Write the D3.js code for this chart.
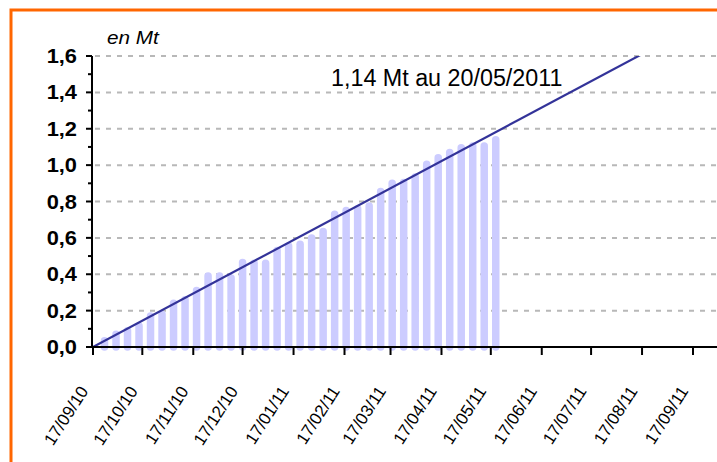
<!DOCTYPE html>
<html>
<head>
<meta charset="utf-8">
<script src="https://cdn.jsdelivr.net/npm/d3@7"></script>
<style>
  body { margin: 0; background: #fff; }
  svg { display: block; font-family: "Liberation Sans", Arial, sans-serif; }
</style>
</head>
<body>
<div id="chart"></div>
<script>
// weekly cumulative values (Mt), Fridays from 24/09/10 to 20/05/11
var barDates = ["24/09/10","01/10/10","08/10/10","15/10/10","22/10/10","29/10/10","05/11/10",
  "12/11/10","19/11/10","26/11/10","03/12/10","10/12/10","17/12/10","24/12/10","31/12/10",
  "07/01/11","14/01/11","21/01/11","28/01/11","04/02/11","11/02/11","18/02/11","25/02/11",
  "04/03/11","11/03/11","18/03/11","25/03/11","01/04/11","08/04/11","15/04/11","22/04/11",
  "29/04/11","06/05/11","13/05/11","20/05/11"];
var barValues = [0.035,0.07,0.09,0.115,0.17,0.18,0.24,0.26,0.31,0.39,0.39,0.38,0.465,0.46,0.46,
  0.53,0.555,0.565,0.60,0.635,0.73,0.75,0.76,0.775,0.855,0.90,0.905,0.935,1.005,1.04,1.07,
  1.095,1.105,1.105,1.14];

// target line
var lineDates = ["17/09/10", "17/09/11"];
var lineValues = [0, 1.76];

var xTickLabels = ["17/09/10","17/10/10","17/11/10","17/12/10","17/01/11","17/02/11","17/03/11",
  "17/04/11","17/05/11","17/06/11","17/07/11","17/08/11","17/09/11"];
var yTickValues = [0, 0.2, 0.4, 0.6, 0.8, 1.0, 1.2, 1.4, 1.6];

var unitLabel = "en Mt";
var noteText = "1,14 Mt au 20/05/2011";

var W = 717, H = 462;
var parse = d3.timeParse("%d/%m/%y");
var fmtY = function (d) { return d.toFixed(1).replace(".", ","); };

var svg = d3.select("#chart").append("svg")
  .attr("width", W).attr("height", H);

// orange frame
svg.append("rect")
  .attr("x", 11).attr("y", 10).attr("width", W + 20).attr("height", H + 20)
  .attr("fill", "#fff").attr("stroke", "#ff6600").attr("stroke-width", 3);

var x = d3.scaleTime()
  .domain([parse(xTickLabels[0]), parse(xTickLabels[xTickLabels.length - 1])])
  .range([93, 693]);
var y = d3.scaleLinear().domain([0, 1.6]).range([347, 56]);

var plotRight = 717;

// grid
svg.append("g").selectAll("line")
  .data(yTickValues.filter(function (d) { return d > 0; }))
  .enter().append("line")
  .attr("x1", 95).attr("x2", plotRight)
  .attr("y1", function (d) { return y(d); }).attr("y2", function (d) { return y(d); })
  .attr("stroke", "#b8b8b8").attr("stroke-width", 2).attr("stroke-dasharray", "5,6");

// bars (thick round-capped lines)
svg.append("g").selectAll("line")
  .data(barDates.map(function (d, i) { return {date: parse(d), value: barValues[i]}; }))
  .enter().append("line")
  .attr("x1", function (d) { return x(d.date); }).attr("x2", function (d) { return x(d.date); })
  .attr("y1", y(0)).attr("y2", function (d) { return y(d.value); })
  .attr("stroke", "#ccccff").attr("stroke-width", 7.5).attr("stroke-linecap", "round");

// target line, clipped to plot area
svg.append("clipPath").attr("id", "plotclip")
  .append("rect").attr("x", 93).attr("y", y(1.6)).attr("width", plotRight - 93).attr("height", y(0) - y(1.6));
svg.append("path")
  .datum(lineDates.map(function (d, i) { return {date: parse(d), value: lineValues[i]}; }))
  .attr("clip-path", "url(#plotclip)")
  .attr("d", d3.line().x(function (d) { return x(d.date); }).y(function (d) { return y(d.value); }))
  .attr("fill", "none").attr("stroke", "#333399").attr("stroke-width", 2.2);

// x axis
var xAxis = svg.append("g").attr("transform", "translate(0," + y(0) + ")");
xAxis.append("line").attr("x1", 92).attr("x2", plotRight).attr("stroke", "#000").attr("stroke-width", 2);
xAxis.selectAll(".xt").data(xTickLabels).enter().append("line")
  .attr("x1", function (d) { return x(parse(d)); }).attr("x2", function (d) { return x(parse(d)); })
  .attr("y1", 0).attr("y2", 8).attr("stroke", "#000").attr("stroke-width", 2);
xAxis.selectAll("text").data(xTickLabels).enter().append("text")
  .attr("transform", function (d) { return "translate(" + (x(parse(d)) - 4) + ",44) rotate(-57)"; })
  .attr("text-anchor", "end")
  .style("font-size", "17px")
  .text(function (d) { return d; });

// y axis
var yAxis = svg.append("g").attr("transform", "translate(92,0)");
yAxis.append("line").attr("y1", y(1.6)).attr("y2", y(0) + 1).attr("stroke", "#000").attr("stroke-width", 2);
yAxis.selectAll(".minor").data(d3.range(0, 17).map(function (i) { return i / 10; }))
  .enter().append("line")
  .attr("x1", function (d, i) { return i % 2 === 0 ? -6 : -4; }).attr("x2", 0)
  .attr("y1", function (d) { return y(d); }).attr("y2", function (d) { return y(d); })
  .attr("stroke", "#000").attr("stroke-width", 2);
yAxis.selectAll("text").data(yTickValues).enter().append("text")
  .attr("transform", function (d) { return "translate(-15," + (y(d) + 7) + ") scale(1.12,1)"; })
  .attr("text-anchor", "end")
  .style("font-size", "19.5px").style("font-weight", "bold")
  .text(fmtY);

// unit label
svg.append("text")
  .attr("transform", "translate(107,44) scale(1.12,1)")
  .style("font-size", "18.5px").style("font-style", "italic")
  .text(unitLabel);

// annotation
svg.append("text")
  .attr("x", 331).attr("y", 86)
  .style("font-size", "23.3px")
  .text(noteText);
</script>
</body>
</html>
